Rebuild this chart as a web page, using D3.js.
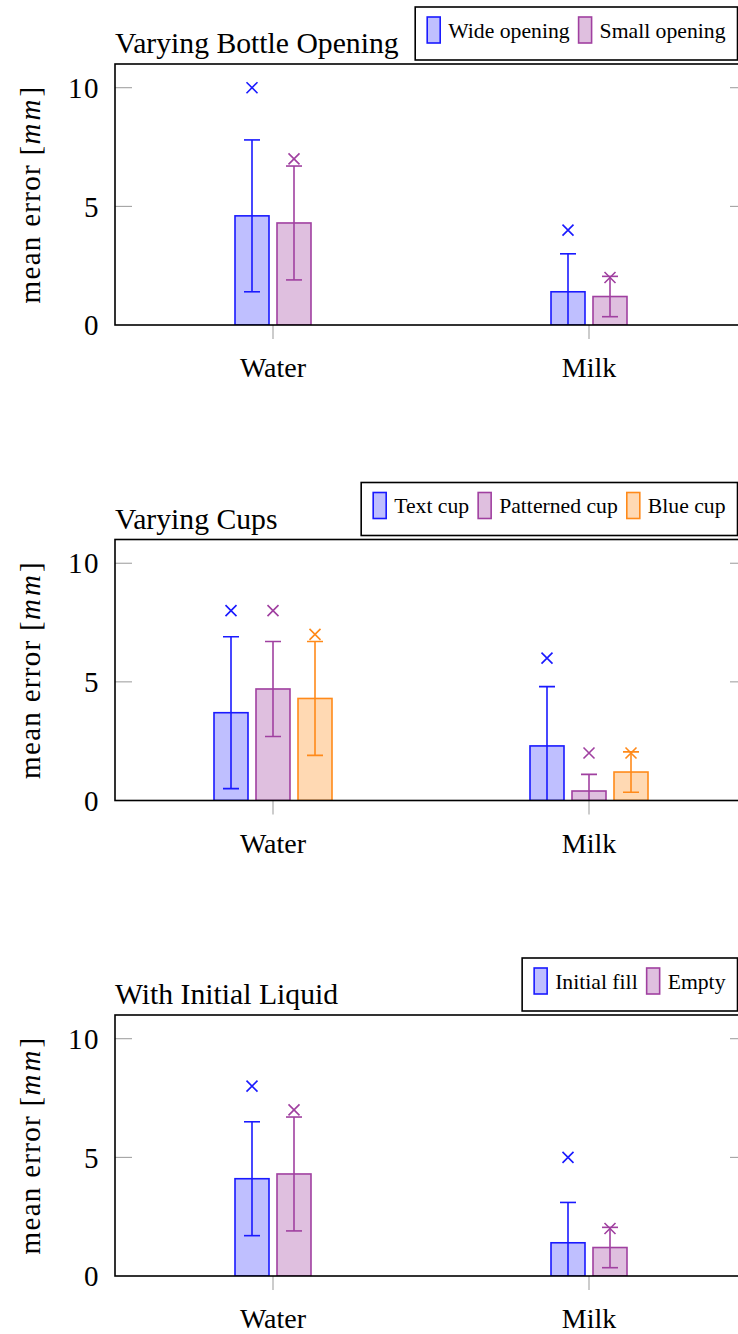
<!DOCTYPE html>
<html>
<head>
<meta charset="utf-8">
<script src="https://cdn.jsdelivr.net/npm/d3@7"></script>
<style>
  body { margin: 0; background: #fff; }
  svg { display: block; font-family: "Liberation Serif", "Times New Roman", serif; }
</style>
</head>
<body>
<main></main>
<script>
(function(){

  // DATA
  const categories = ["Water", "Milk"];
  const yTicks = [0, 5, 10];

  const bottleTitle = "Varying Bottle Opening";
  const bottleSeries = ["Wide opening", "Small opening"];
  const bottleMeans = [[4.6, 1.4], [4.3, 1.2]];
  const bottleErrors = [[3.2, 1.6], [2.4, 0.85]];
  const bottleMax = [[10, 4], [7, 2]];

  const cupsTitle = "Varying Cups";
  const cupsSeries = ["Text cup", "Patterned cup", "Blue cup"];
  const cupsMeans = [[3.7, 2.3], [4.7, 0.4], [4.3, 1.2]];
  const cupsErrors = [[3.2, 2.5], [2.0, 0.7], [2.4, 0.85]];
  const cupsMax = [[8, 6], [8, 2], [7, 2]];

  const liquidTitle = "With Initial Liquid";
  const liquidSeries = ["Initial fill", "Empty"];
  const liquidMeans = [[4.1, 1.4], [4.3, 1.2]];
  const liquidErrors = [[2.4, 1.7], [2.4, 0.85]];
  const liquidMax = [[8, 5], [7, 2]];

  const strokes = ["#1a1aff", "#a040a0", "#ff8a1a"];
  const fills = ["#bfbfff", "#dfbfdf", "#ffd9b3"];

  const w = 738,
    h = 1334,
    left = 115,
    right = 747,
    panelH = 261,
    firstTop = 64,
    panelGap = 475.5,
    legendRight = 737.5;

  const svg = d3.select("main")
    .append("svg")
    .attr("width", w)
    .attr("height", h);

  const x = d3.scalePoint()
    .domain(categories)
    .range([left, right])
    .padding(0.5);

  function drawPanel(idx, title, series, means, errors, maxes){
    const top = firstTop + idx * panelGap,
      bottom = top + panelH;

    const g = svg.append("g");

    const y = d3.scaleLinear()
      .domain([0, 11])
      .range([bottom, top]);

    const n = series.length;
    const inner = d3.scaleBand()
      .domain(series)
      .range([-21 * n, 21 * n])
      .paddingInner(8 / 42)
      .paddingOuter(4 / 42);

    // clip
    const clipId = "clip" + idx;
    g.append("clipPath").attr("id", clipId)
      .append("rect")
      .attr("x", left).attr("y", top)
      .attr("width", right - left).attr("height", panelH);

    // y ticks (inside, both sides)
    const tickG = g.append("g");
    tickG.selectAll(".lt").data(yTicks.filter(t => t > 0)).join("line")
      .attr("x1", left).attr("x2", left + 17)
      .attr("y1", d => y(d)).attr("y2", d => y(d))
      .attr("stroke", "#999").attr("stroke-width", 1);
    tickG.selectAll(".rt").data(yTicks.filter(t => t > 0)).join("line")
      .attr("class", "rt")
      .attr("x1", right - 17).attr("x2", right)
      .attr("y1", d => y(d)).attr("y2", d => y(d))
      .attr("stroke", "#999").attr("stroke-width", 1);

    // x ticks
    g.selectAll(".xt").data(categories).join("line")
      .attr("x1", d => x(d)).attr("x2", d => x(d))
      .attr("y1", bottom).attr("y2", bottom + 14)
      .attr("stroke", "#999").attr("stroke-width", 1);

    // tick labels
    g.selectAll(".yl").data(yTicks).join("text")
      .attr("x", 100).attr("y", d => y(d))
      .attr("dy", "0.35em")
      .attr("text-anchor", "end")
      .attr("font-size", 29)
      .attr("letter-spacing", 1.5)
      .text(d => d);

    g.selectAll(".xl").data(categories).join("text")
      .attr("x", d => x(d)).attr("y", bottom + 52)
      .attr("text-anchor", "middle")
      .attr("font-size", 28)
      .text(d => d);

    // y label
    const yl = g.append("text")
      .attr("transform", "translate(40," + ((top + bottom) / 2) + ") rotate(-90)")
      .attr("text-anchor", "middle")
      .attr("font-size", 29)
      .attr("letter-spacing", 1.3);
    yl.append("tspan").text("mean error [");
    yl.append("tspan").attr("font-style", "italic").attr("letter-spacing", 3).text("mm");
    yl.append("tspan").text("]");

    // title
    g.append("text")
      .attr("x", left).attr("y", top - 11)
      .attr("font-size", 29.7)
      .text(title);

    // bars
    const plot = g.append("g").attr("clip-path", "url(#" + clipId + ")");
    series.forEach((s, si) => {
      const sg = plot.append("g");
      const rows = categories.map((c, ci) => ({
        c: c, m: means[si][ci], e: errors[si][ci], mx: maxes[si][ci]
      }));
      const cx = d => x(d.c) + inner(s) + inner.bandwidth() / 2;

      sg.selectAll("rect").data(rows).join("rect")
        .attr("x", d => x(d.c) + inner(s))
        .attr("y", d => y(d.m))
        .attr("width", inner.bandwidth())
        .attr("height", d => y(0) - y(d.m))
        .attr("fill", fills[si])
        .attr("stroke", strokes[si])
        .attr("stroke-width", 1.6);

      // error bars
      sg.selectAll(".ev").data(rows).join("line")
        .attr("x1", cx).attr("x2", cx)
        .attr("y1", d => y(d.m + d.e)).attr("y2", d => y(d.m - d.e))
        .attr("stroke", strokes[si]).attr("stroke-width", 1.6);
      [1, -1].forEach(sign => {
        sg.selectAll(".ec" + (sign > 0 ? "t" : "b")).data(rows).join("line")
          .attr("x1", d => cx(d) - 8).attr("x2", d => cx(d) + 8)
          .attr("y1", d => y(d.m + sign * d.e)).attr("y2", d => y(d.m + sign * d.e))
          .attr("stroke", strokes[si]).attr("stroke-width", 1.6);
      });

      // max markers
      sg.selectAll(".mk").data(rows).join("path")
        .attr("d", d => {
          const px = cx(d), py = y(d.mx), r = 5.5;
          return "M" + (px - r) + "," + (py - r) + "L" + (px + r) + "," + (py + r) +
            "M" + (px - r) + "," + (py + r) + "L" + (px + r) + "," + (py - r);
        })
        .attr("stroke", strokes[si]).attr("stroke-width", 1.6)
        .attr("fill", "none");
    });

    // axis box
    g.append("rect")
      .attr("x", left).attr("y", top)
      .attr("width", right - left).attr("height", panelH)
      .attr("fill", "none").attr("stroke", "#000").attr("stroke-width", 1.6);

    // legend
    const lg = g.append("g");
    const lTop = top - 57, lH = 53;
    const box = lg.append("rect")
      .attr("y", lTop).attr("height", lH)
      .attr("fill", "#fff").attr("stroke", "#000").attr("stroke-width", 1.6);
    let cur = 12;
    const items = [];
    series.forEach((s, si) => {
      const sw = lg.append("rect")
        .attr("y", lTop + 10).attr("width", 13).attr("height", 26)
        .attr("fill", fills[si]).attr("stroke", strokes[si]).attr("stroke-width", 1.6);
      const t = lg.append("text")
        .attr("y", lTop + 30.5)
        .attr("font-size", 21.7)
        .text(s);
      items.push({sw: sw, t: t, sx: cur, tx: cur + 21});
      cur += 21 + t.node().getComputedTextLength() + 9;
    });
    const lW = cur - 9 + 12;
    const lLeft = legendRight - lW;
    box.attr("x", lLeft).attr("width", lW);
    items.forEach(it => {
      it.sw.attr("x", lLeft + it.sx);
      it.t.attr("x", lLeft + it.tx);
    });
  }

  drawPanel(0, bottleTitle, bottleSeries, bottleMeans, bottleErrors, bottleMax);
  drawPanel(1, cupsTitle, cupsSeries, cupsMeans, cupsErrors, cupsMax);
  drawPanel(2, liquidTitle, liquidSeries, liquidMeans, liquidErrors, liquidMax);

})()
</script>
</body>
</html>
